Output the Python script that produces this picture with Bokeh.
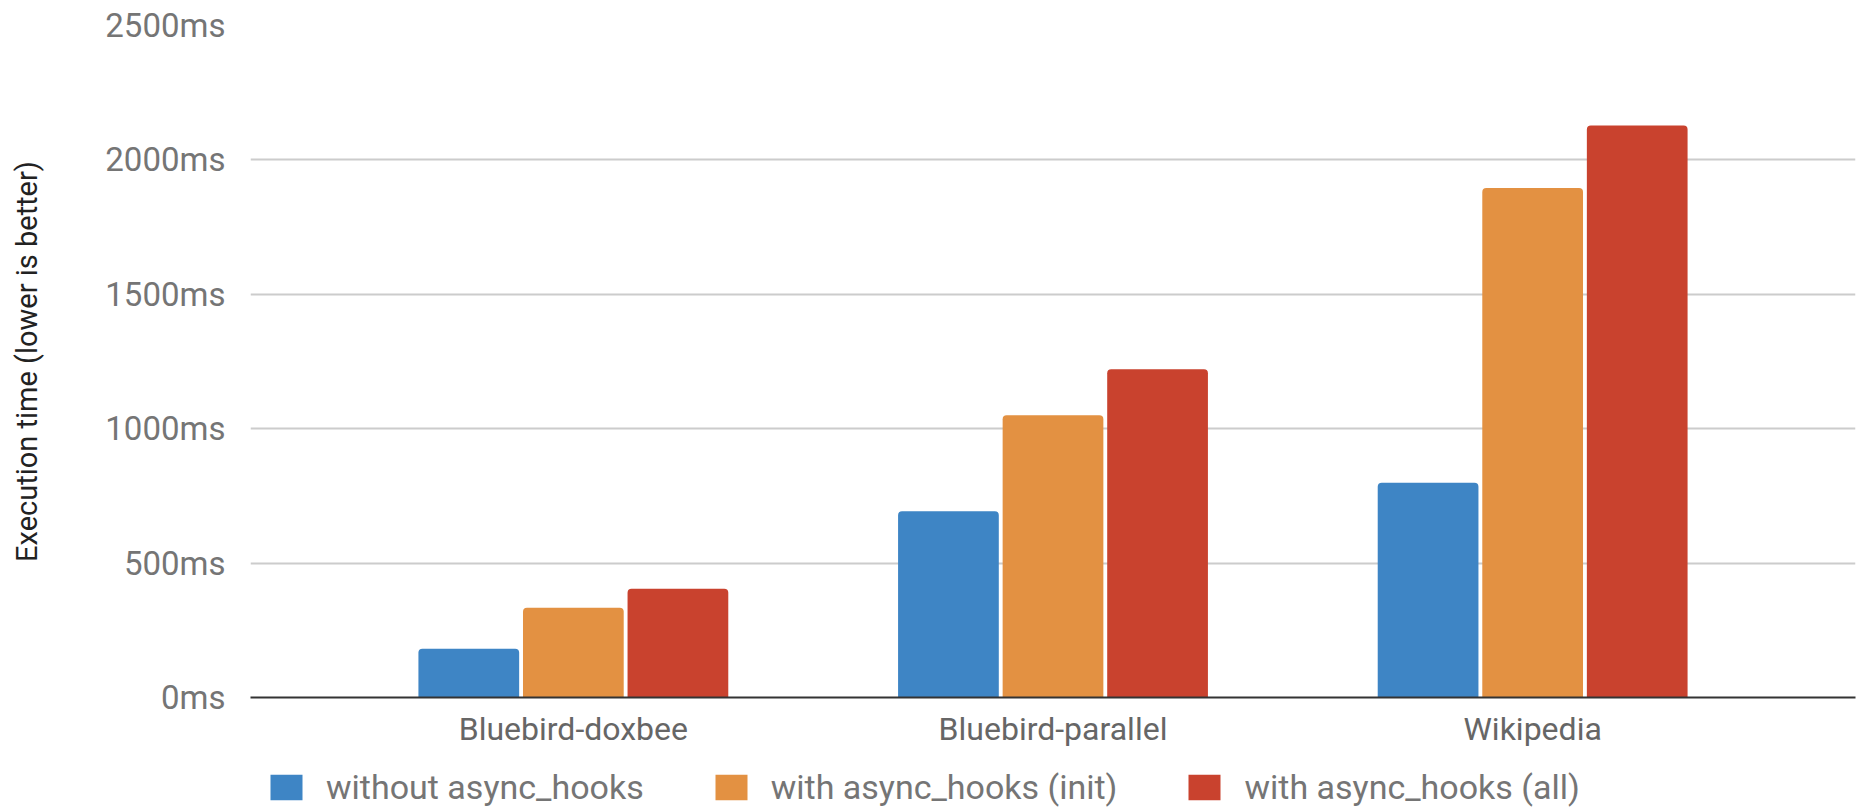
from bokeh.plotting import figure
from bokeh.models import ColumnDataSource, FactorRange, Legend, LegendItem, FixedTicker, Range1d
from bokeh.layouts import column
from bokeh.transform import dodge
from bokeh.embed import file_html
from bokeh.resources import INLINE

categories = ["Bluebird-doxbee", "Bluebird-parallel", "Wikipedia"]
without_hooks = [181, 693, 799]
hooks_init = [334, 1050, 1895]
hooks_all = [405, 1221, 2128]
series_labels = ["without async_hooks", "with async_hooks (init)", "with async_hooks (all)"]
y_ticks = [0, 500, 1000, 1500, 2000, 2500]
y_tick_labels = {t: f"{t}ms" for t in y_ticks}

colors = ["#3E85C5", "#E39142", "#C9422E"]
FONT = "Roboto"

source = ColumnDataSource(dict(cat=categories, a=without_hooks, b=hooks_init, c=hooks_all))

x_range = FactorRange(factors=categories, range_padding=0.1154, range_padding_units="percent")

p = figure(
    width=1862, height=750,
    x_range=x_range,
    y_range=(0, 2500),
    output_backend="svg", toolbar_location=None,
    min_border_left=250, min_border_right=7, min_border_top=25, min_border_bottom=53,
)
p.outline_line_color = None

offsets = [-0.218, 0.0, 0.218]
keys = ["a", "b", "c"]
for key, off, col in zip(keys, offsets, colors):
    p.vbar(x=dodge("cat", off, range=p.x_range), top=key, width=0.21, source=source,
           fill_color=col, line_color=None, border_radius=(4, 4, 0, 0))

# y axis
p.yaxis.ticker = FixedTicker(ticks=y_ticks)
p.yaxis.major_label_overrides = y_tick_labels
p.yaxis.axis_line_color = None
p.yaxis.major_tick_line_color = None
p.yaxis.minor_tick_line_color = None
p.yaxis.major_label_text_font = FONT
p.yaxis.major_label_text_font_size = "33px"
p.yaxis.major_label_text_color = "#757575"
p.yaxis.major_label_standoff = 19
p.yaxis.axis_label = "Execution time (lower is better)"
p.yaxis.axis_label_text_font = FONT
p.yaxis.axis_label_text_font_style = "normal"
p.yaxis.axis_label_text_font_size = "29px"
p.yaxis.axis_label_text_color = "#222222"
p.yaxis.axis_label_standoff = 58

p.ygrid.grid_line_color = "#cccccc"
p.ygrid.grid_line_width = 2
p.xgrid.grid_line_color = None

# x axis
p.xaxis.axis_line_color = "#333333"
p.xaxis.axis_line_width = 2
p.xaxis.major_tick_line_color = None
p.xaxis.minor_tick_line_color = None
p.xaxis.major_label_text_font = FONT
p.xaxis.major_label_text_font_size = "32px"
p.xaxis.major_label_text_color = "#666666"
p.xaxis.major_label_standoff = 6

# legend strip below the chart (its bars lie outside its visible y range)
lg = figure(
    width=1862, height=57,
    x_range=x_range, y_range=Range1d(5000, 5100),
    x_axis_type=None, y_axis_type=None,
    output_backend="svg", toolbar_location=None,
    min_border=0,
)
lg.outline_line_color = None
lg.grid.visible = False
legend_renderers = [
    lg.vbar(x=dodge("cat", off, range=x_range), top=key, width=0.21, source=source,
            fill_color=col, line_color=None)
    for key, off, col in zip(keys, offsets, colors)
]

legend = Legend(
    items=[LegendItem(label=lab, renderers=[r]) for lab, r in zip(series_labels, legend_renderers)],
    orientation="horizontal",
    location=(16, 0),
)
legend.label_text_font = FONT
legend.label_text_font_size = "34px"
legend.label_text_color = "#757575"
legend.glyph_width = 40
legend.glyph_height = 32
legend.label_standoff = 20
legend.spacing = 67
legend.padding = 0
legend.margin = 0
legend.border_line_color = None
legend.background_fill_alpha = 0
lg.add_layout(legend, "center")

layout = column(p, lg, spacing=0)
open("out.html", "w").write(file_html(layout, INLINE))
